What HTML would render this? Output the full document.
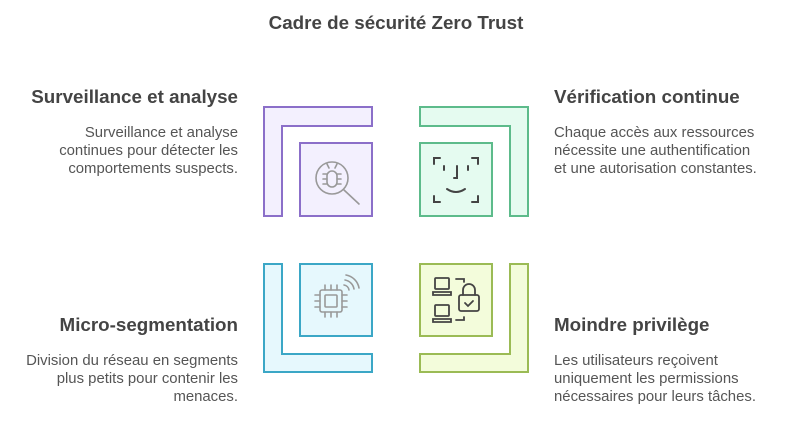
<!DOCTYPE html>
<html><head><meta charset="utf-8"><style>
html,body{margin:0;padding:0;background:#fff;width:792px;height:432px;overflow:hidden}
text{font-family:"Liberation Sans",Arial,sans-serif;fill:#444}
.h{font-size:18.8px;font-weight:bold}
.b{font-size:14.9px;fill:#555}
</style></head><body>
<svg width="792" height="432" viewBox="0 0 792 432">
<text x="396" y="29" text-anchor="middle" font-size="18.8" font-weight="bold">Cadre de sécurité Zero Trust</text>

<!-- purple -->
<path d="M264 107H372V126H282V216H264Z" fill="#F3F0FE" stroke="#8B6FC9" stroke-width="2"/>
<rect x="300" y="143" width="72" height="73" fill="#F3F0FE" stroke="#8B6FC9" stroke-width="2"/>
<g fill="none" stroke="#999" stroke-width="1.6" stroke-linecap="round">
<circle cx="332" cy="178" r="16"/><line x1="344" y1="190" x2="359" y2="204"/>
<rect x="327" y="171" width="10" height="16" rx="5"/>
<path d="M329 168l-2-4M335 168l2-4M323 174h4M337 174h4M323 179h4M337 179h4M323 184h4M337 184h4"/>
</g>

<!-- green -->
<path d="M420 107H528V216H510V126H420Z" fill="#E5FBF0" stroke="#5DBB8B" stroke-width="2"/>
<rect x="420" y="143" width="72" height="73" fill="#E5FBF0" stroke="#5DBB8B" stroke-width="2"/>
<g fill="none" stroke="#444" stroke-width="2" stroke-linecap="round">
<path d="M434 164v-6h6M478 164v-6h-6M434 196v6h6M478 196v6h-6"/>
<path d="M444 166v4M468 166v4M457 166v12h-3M447 189q9 6 18 0"/>
</g>

<!-- blue -->
<path d="M264 264H282V354H372V372H264Z" fill="#E6F8FD" stroke="#3BA7C6" stroke-width="2"/>
<rect x="300" y="264" width="72" height="72" fill="#E6F8FD" stroke="#3BA7C6" stroke-width="2"/>
<g fill="none" stroke="#999" stroke-width="1.6" stroke-linecap="round">
<rect x="320" y="290" width="22" height="22" rx="2"/><rect x="325" y="295" width="12" height="12" rx="1"/>
<path d="M325 290v-5M331 290v-5M337 290v-5M325 312v5M331 312v5M337 312v5M320 295h-5M320 301h-5M320 307h-5M342 295h5M342 301h5M342 307h5"/>
<path d="M344 285a6 6 0 0 1 5 5M345 280a11 11 0 0 1 9 9M346 275a16 16 0 0 1 13 13"/>
</g>

<!-- lime -->
<path d="M510 264H528V372H420V354H510Z" fill="#F3FCDB" stroke="#9BBB55" stroke-width="2"/>
<rect x="420" y="264" width="72" height="72" fill="#F3FCDB" stroke="#9BBB55" stroke-width="2"/>
<g fill="none" stroke="#444" stroke-width="1.8" stroke-linecap="round">
<rect x="435" y="278" width="14" height="11" rx="1"/><path d="M433 292h18v3h-18z"/>
<rect x="435" y="305" width="14" height="11" rx="1"/><path d="M433 319h18v3h-18z"/>
<path d="M456 279h8v3M456 320h8v-3"/>
<rect x="459" y="295" width="20" height="16" rx="2"/><path d="M463 295v-5a6 6 0 0 1 12 0v5"/>
<path d="M465 303l3 3 5-5"/>
</g>

<!-- texts -->
<text class="h" x="238" y="103" text-anchor="end">Surveillance et analyse</text>
<text class="b" x="238" y="137" text-anchor="end">Surveillance et analyse</text>
<text class="b" x="238" y="155" text-anchor="end">continues pour détecter les</text>
<text class="b" x="238" y="173" text-anchor="end">comportements suspects.</text>

<text class="h" x="554" y="103">Vérification continue</text>
<text class="b" x="554" y="137">Chaque accès aux ressources</text>
<text class="b" x="554" y="155">nécessite une authentification</text>
<text class="b" x="554" y="173">et une autorisation constantes.</text>

<text class="h" x="238" y="331" text-anchor="end">Micro-segmentation</text>
<text class="b" x="238" y="365" text-anchor="end">Division du réseau en segments</text>
<text class="b" x="238" y="383" text-anchor="end">plus petits pour contenir les</text>
<text class="b" x="238" y="401" text-anchor="end">menaces.</text>

<text class="h" x="554" y="331">Moindre privilège</text>
<text class="b" x="554" y="365">Les utilisateurs reçoivent</text>
<text class="b" x="554" y="383">uniquement les permissions</text>
<text class="b" x="554" y="401">nécessaires pour leurs tâches.</text>
</svg>
</body></html>
